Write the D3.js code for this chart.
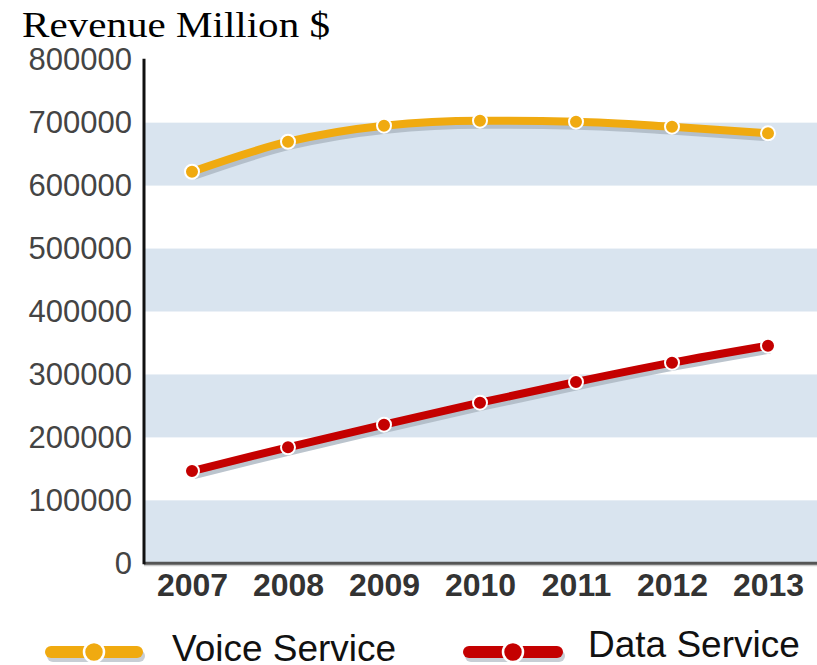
<!DOCTYPE html>
<html><head><meta charset="utf-8">
<script src="https://cdn.jsdelivr.net/npm/d3@7"></script>
<style>body{margin:0;background:#fff}svg{display:block}</style>
</head><body>
<svg id="c" width="817" height="665"></svg>
<script>
const years = ["2007","2008","2009","2010","2011","2012","2013"];
const voiceService = [622000, 669700, 695200, 703100, 701500, 693600, 683100];
const dataService = [146600, 184300, 220200, 255100, 288000, 318700, 345700];
const yTicks = [0,100000,200000,300000,400000,500000,600000,700000,800000];
const seriesNames = ["Voice Service","Data Service"];
const seriesColors = ["#f0aa10","#c40000"];

(function(){
const svg = d3.select("#c");
const mLeft = 144, mRight = 816, mTop = 59.7, mBottom = 563.3;
const x = d3.scalePoint().domain(years).range([mLeft, mRight]).padding(0.5);
const y = d3.scaleLinear().domain([0, 800000]).range([mBottom, mTop]);

// title
svg.append("text").attr("x", 22).attr("y", 37)
  .attr("font-family", "'Liberation Serif', 'Times New Roman', serif")
  .attr("font-size", 36).attr("textLength", 308).attr("lengthAdjust", "spacingAndGlyphs")
  .attr("fill", "#000").text("Revenue Million $");

// bands
const bands = [[0,100000],[200000,300000],[400000,500000],[600000,700000]];
svg.append("g").selectAll("rect").data(bands).join("rect")
  .attr("x", mLeft).attr("width", 817 - mLeft)
  .attr("y", d => y(d[1])).attr("height", d => y(d[0]) - y(d[1]))
  .attr("fill", "#d9e4ef");

// y axis
const yAxis = svg.append("g").attr("transform", `translate(${mLeft},0)`)
  .call(d3.axisLeft(y).tickValues(yTicks).tickSize(0).tickPadding(12).tickFormat(d3.format("d")));
yAxis.select(".domain").remove();
yAxis.selectAll("text").attr("font-family", "'Liberation Sans', Arial, sans-serif")
  .attr("font-size", 31).attr("fill", "#444");

// x axis
const xAxis = svg.append("g").attr("transform", `translate(0,${mBottom})`)
  .call(d3.axisBottom(x).tickSize(0).tickPadding(10));
xAxis.select(".domain").remove();
xAxis.selectAll("text").attr("font-family", "'Liberation Sans', Arial, sans-serif")
  .attr("font-size", 32).attr("font-weight", "bold").attr("fill", "#333");

// axis lines
svg.append("line").attr("x1", mLeft).attr("x2", 817).attr("y1", mBottom + 2).attr("y2", mBottom + 2)
  .attr("stroke", "#ccc").attr("stroke-width", 2);
svg.append("line").attr("x1", mLeft).attr("x2", 817).attr("y1", mBottom).attr("y2", mBottom)
  .attr("stroke", "#555").attr("stroke-width", 3);
svg.append("line").attr("x1", mLeft).attr("x2", mLeft).attr("y1", mTop - 1).attr("y2", mBottom + 1)
  .attr("stroke", "#111").attr("stroke-width", 3);

const series = [voiceService, dataService];
const line = d3.line().x((d, i) => x(years[i])).y(d => y(d)).curve(d3.curveMonotoneX);

series.forEach((vals, si) => {
  const g = svg.append("g");
  g.append("path").datum(vals).attr("d", line).attr("transform", "translate(2,4)")
    .attr("fill", "none").attr("stroke", "#aab5c1").attr("stroke-width", 8).attr("opacity", 0.8);
  g.append("path").datum(vals).attr("d", line)
    .attr("fill", "none").attr("stroke", seriesColors[si]).attr("stroke-width", 8).attr("stroke-linejoin", "round");
  g.selectAll("circle").data(vals).join("circle")
    .attr("cx", (d, i) => x(years[i])).attr("cy", d => y(d)).attr("r", 7)
    .attr("fill", seriesColors[si]).attr("stroke", "#fff").attr("stroke-width", 2);
});

// legend
const legendItems = [
  {x0: 51, x1: 137, cy: 652, tx: 172, ty: 661},
  {x0: 469, x1: 557, cy: 652, tx: 588, ty: 657}
];
legendItems.forEach((L, i) => {
  const g = svg.append("g");
  g.append("line").attr("x1", L.x0 + 2).attr("x2", L.x1 + 2).attr("y1", L.cy + 4).attr("y2", L.cy + 4)
    .attr("stroke", "#c8ced5").attr("stroke-width", 12).attr("stroke-linecap", "round");
  g.append("line").attr("x1", L.x0).attr("x2", L.x1).attr("y1", L.cy).attr("y2", L.cy)
    .attr("stroke", seriesColors[i]).attr("stroke-width", 12).attr("stroke-linecap", "round");
  g.append("circle").attr("cx", (L.x0 + L.x1) / 2).attr("cy", L.cy).attr("r", 10)
    .attr("fill", seriesColors[i]).attr("stroke", "#fff").attr("stroke-width", 2.5);
  g.append("text").attr("x", L.tx).attr("y", L.ty)
    .attr("font-family", "'Liberation Sans', Arial, sans-serif").attr("font-size", 37)
    .attr("fill", "#111").text(seriesNames[i]);
});
})();
</script>
</body></html>
